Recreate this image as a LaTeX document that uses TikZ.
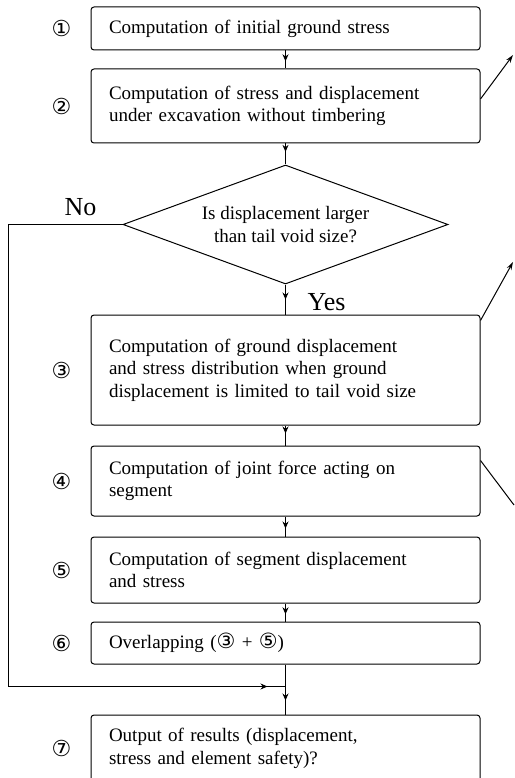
\documentclass[tikz,border=0pt]{standalone}
\usepackage{fontspec}
\setmainfont{Liberation Serif}
\newfontfamily\cnum{DejaVu Sans}
\usetikzlibrary{arrows.meta,positioning,shapes.geometric,decorations.markings}
\newcommand\cn[1]{{\cnum\fontsize{21}{21}\selectfont #1}}
\tikzset{
  >=Stealth,
  box/.style  ={draw,line width=1pt,rounded corners=3pt,minimum width=389pt,
                text width=353pt,align=left,inner xsep=18pt,inner ysep=0pt,
                font=\fontsize{19}{22.5}\selectfont},
  ask/.style  ={draw,line width=1pt,diamond,aspect=2.73,minimum width=325pt,
                minimum height=119pt,inner sep=0pt,align=center,
                font=\fontsize{19}{22.5}\selectfont},
  num/.style  ={inner sep=0pt,font=\cnum\fontsize{22}{22}\selectfont},
  ans/.style  ={inner sep=0pt,font=\fontsize{26}{26}\selectfont},
  wire/.style ={line width=1pt},
  flow/.style ={wire,postaction={decorate},
                decoration={markings,mark=at position #1 with
                  {\arrow{Stealth[length=7pt,width=6pt]}}}},
  flow/.default=0.6,
  side/.style ={wire,-{Stealth[length=8pt,width=5pt]}},
}
\begin{document}
\begin{tikzpicture}
\useasboundingbox (0,0) rectangle (514pt,-778pt);
% steps of the computation
\node[box,minimum height=43pt] (b1) at (285.5pt,-28.5pt)
  {Computation of initial ground stress};
\node[box,minimum height=74pt,below=18pt of b1] (b2)
  {Computation of stress and displacement\\under excavation without timbering};
\node[ask,below=21pt of b2] (dec) {Is displacement larger\\than tail void size?};
\node[box,minimum height=110pt,below=30pt of dec] (b3)
  {Computation of ground displacement\\and stress distribution when ground\\displacement is limited to tail void size};
\node[box,minimum height=70pt,below=20pt of b3] (b4)
  {Computation of joint force acting on\\segment};
\node[box,minimum height=66pt,below=20pt of b4] (b5)
  {Computation of segment displacement\\and stress};
\node[box,minimum height=42pt,below=18pt of b5] (b6)
  {Overlapping (\cn{③} + \cn{⑤})};
\node[box,minimum height=67pt,below=50pt of b6] (b7)
  {Output of results (displacement,\\stress and element safety)?};

% step numbers
\node[num,left=19pt of b1] (n1) {①};
\node[num,left=19pt of b2] (n2) {②};
\node[num,left=19pt of b3] (n3) {③};
\node[num,left=19pt of b4] (n4) {④};
\node[num,left=19pt of b5] (n5) {⑤};
\node[num,left=19pt of b6] (n6) {⑥};
\node[num,left=19pt of b7] (n7) {⑦};

\node[ans,above left=9pt and 26pt of dec.west] (no) {No};
\node[ans,above right=4pt and 22pt of b3.north] (yes) {Yes};

% flow
\coordinate[below=22pt of b6] (j);
\coordinate (edge) at (8pt,0pt);
\draw[flow] (b1) -- (b2);
\draw[flow=0.4] (b2) -- (dec);
\draw[flow=0.5] (dec) -- (b3);
\draw[flow=0.4] (b3) -- (b4);
\draw[flow] (b4) -- (b5);
\draw[flow] (b5) -- (b6);
\draw[wire] (b6) -- (j);
\draw[flow=-18pt] (dec.west) -| (edge |- j) -- (j);
\draw[flow=0.5] (j) -- (b7);

% links to the side
\coordinate (o2) at (513pt,-55pt);
\coordinate (o3) at (513pt,-262pt);
\coordinate (o4) at (514pt,-505pt);
\draw[side] ([yshift=7pt]b2.east) -- (o2);
\draw[side] ([yshift=-6pt]b3.north east) -- (o3);
\draw[wire] ([yshift=-15pt]b4.north east) -- (o4);
\end{tikzpicture}
\end{document}
